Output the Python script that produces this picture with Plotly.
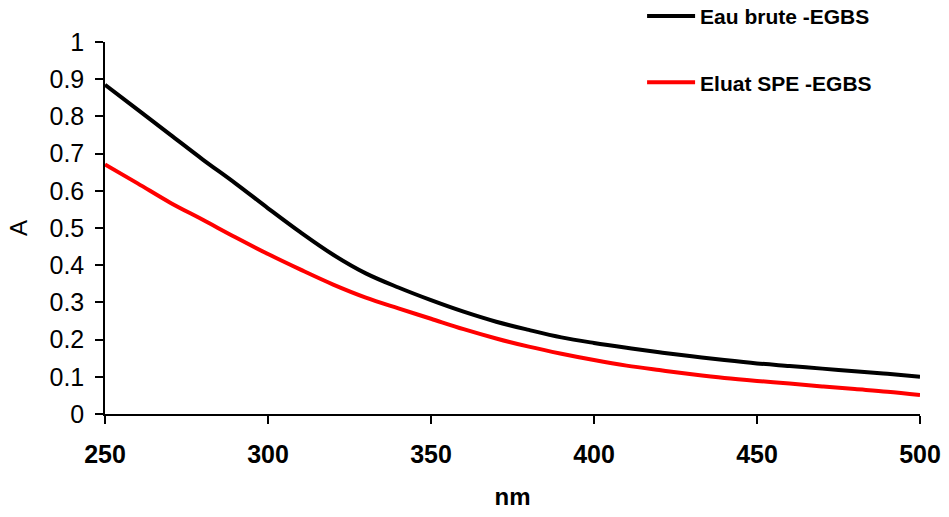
import plotly.graph_objects as go

wavelength = [250, 260, 270, 280, 290, 300, 310, 320, 330, 340, 350, 360, 370, 380,
              390, 400, 410, 420, 430, 440, 450, 460, 470, 480, 490, 500]
eau_brute = [0.885, 0.818, 0.751, 0.684, 0.620, 0.553, 0.488, 0.428, 0.378, 0.340,
             0.306, 0.275, 0.248, 0.226, 0.206, 0.191, 0.178, 0.166, 0.155, 0.145,
             0.136, 0.129, 0.122, 0.115, 0.108, 0.100]
eluat_spe = [0.671, 0.620, 0.568, 0.522, 0.475, 0.430, 0.388, 0.348, 0.313, 0.284,
             0.256, 0.228, 0.203, 0.181, 0.162, 0.145, 0.130, 0.118, 0.107, 0.097,
             0.089, 0.082, 0.074, 0.067, 0.060, 0.051]
series_names = ["Eau brute -EGBS", "Eluat SPE -EGBS"]
x_ticks = [250, 300, 350, 400, 450, 500]
y_ticks = [0, 0.1, 0.2, 0.3, 0.4, 0.5, 0.6, 0.7, 0.8, 0.9, 1]
y_ticklabels = ["0", "0.1", "0.2", "0.3", "0.4", "0.5", "0.6", "0.7", "0.8", "0.9", "1"]

FONT = "Liberation Sans, Arial, sans-serif"

fig = go.Figure()
fig.add_trace(go.Scatter(x=wavelength, y=eau_brute, mode="lines", name=series_names[0],
                         legendgroup="a", line=dict(color="black", width=4, shape="spline")))
fig.add_trace(go.Scatter(x=wavelength, y=eluat_spe, mode="lines", name=series_names[1],
                         legendgroup="b", line=dict(color="#ff0000", width=4, shape="spline")))

fig.update_layout(
    width=949, height=517,
    margin=dict(l=105, r=29, t=42, b=103, autoexpand=False),
    plot_bgcolor="white", paper_bgcolor="white",
    font=dict(family=FONT, color="black"),
    showlegend=True,
    legend=dict(x=0.659, y=1.124, xanchor="left", yanchor="top",
                font=dict(size=21, family=FONT, color="black", weight="bold"),
                tracegroupgap=36, itemwidth=48, bgcolor="rgba(0,0,0,0)"),
    xaxis=dict(range=[250, 500], tickvals=x_ticks, ticks="outside", ticklen=8,
               tickwidth=1.5, tickcolor="black", showline=True, linecolor="black",
               linewidth=1.5, showgrid=False, zeroline=False, automargin=False,
               tickfont=dict(size=25, family=FONT, weight="bold"),
               ticklabelstandoff=9,
               title=dict(text="nm", font=dict(size=24, family=FONT, weight="bold"),
                          standoff=21)),
    yaxis=dict(range=[0, 1], tickvals=y_ticks, ticktext=y_ticklabels, ticks="outside",
               ticklen=8, tickwidth=1.5, tickcolor="black", showline=True,
               linecolor="black", linewidth=1.5, showgrid=False, zeroline=False,
               automargin=False,
               tickfont=dict(size=25, family=FONT), ticklabelstandoff=6,
               title=dict(text="A", font=dict(size=24, family=FONT), standoff=15)),
)

fig.write_html("out.html",
               config={"displayModeBar": False},
               post_script="document.body.style.margin='0';document.body.style.overflow='hidden';")
